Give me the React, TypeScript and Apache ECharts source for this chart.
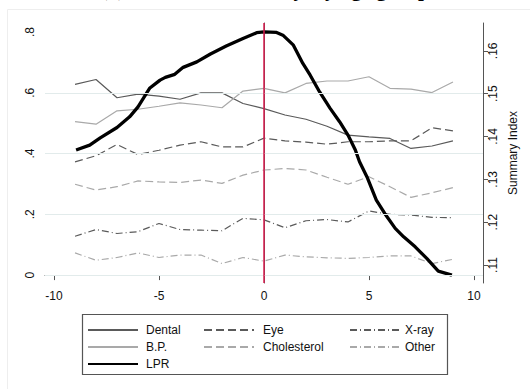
import React, { useEffect, useRef } from "react";
import * as echarts from "echarts";

const titleText = "(a) Test Rates Monthly, by age group";
const xValues = [-9, -8, -7, -6, -5, -4, -3, -2, -1, 0, 1, 2, 3, 4, 5, 6, 7, 8, 9];
const dental = [0.628, 0.644, 0.584, 0.596, 0.589, 0.579, 0.6, 0.6, 0.565, 0.548, 0.527, 0.513, 0.49, 0.461, 0.455, 0.45, 0.417, 0.425, 0.442];
const bp = [0.505, 0.497, 0.541, 0.546, 0.556, 0.567, 0.56, 0.551, 0.606, 0.615, 0.6, 0.631, 0.639, 0.639, 0.653, 0.615, 0.612, 0.601, 0.636];
const eye = [0.373, 0.393, 0.43, 0.397, 0.411, 0.428, 0.439, 0.422, 0.422, 0.451, 0.442, 0.438, 0.431, 0.439, 0.439, 0.442, 0.442, 0.485, 0.475];
const cholesterol = [0.299, 0.28, 0.291, 0.31, 0.307, 0.305, 0.313, 0.302, 0.329, 0.346, 0.351, 0.346, 0.322, 0.299, 0.324, 0.291, 0.256, 0.271, 0.288];
const xray = [0.128, 0.15, 0.137, 0.143, 0.17, 0.15, 0.148, 0.146, 0.187, 0.182, 0.156, 0.179, 0.183, 0.175, 0.211, 0.2, 0.198, 0.19, 0.189];
const other = [0.073, 0.049, 0.058, 0.073, 0.058, 0.066, 0.066, 0.038, 0.058, 0.046, 0.066, 0.06, 0.057, 0.055, 0.058, 0.063, 0.063, 0.038, 0.052];
const lprX = [-8.95, -8.3, -7.8, -7.0, -6.4, -6.0, -5.45, -4.95, -4.7, -4.25, -3.85, -3.2, -2.55, -1.8, -1.0, -0.35, 0, 0.6, 0.9, 1.4, 1.85, 2.2, 2.65, 3.15, 3.6, 4.0, 4.35, 4.55, 4.9, 5.35, 5.75, 6.25, 6.65, 7.2, 7.75, 8.3, 8.95];
const lprY = [0.412, 0.428, 0.452, 0.486, 0.521, 0.554, 0.615, 0.642, 0.651, 0.661, 0.684, 0.702, 0.728, 0.754, 0.779, 0.798, 0.801, 0.799, 0.79, 0.757, 0.697, 0.658, 0.603, 0.549, 0.505, 0.461, 0.412, 0.373, 0.324, 0.247, 0.203, 0.154, 0.126, 0.093, 0.055, 0.013, 0.0];
const xTicks = [-10, -5, 0, 5, 10];
const yLeftTicks = [0, 0.2, 0.4, 0.6, 0.8];
const yGridLines = [0, 0.2, 0.4, 0.6];
const yRightTicks = [0.11, 0.12, 0.13, 0.14, 0.15, 0.16];

const FONT = "'Liberation Sans', Arial, sans-serif";
const DARK = "#5a5a5a";
const LIGHT = "#a9a9a9";

const fmtDec = (v: number) => {
  if (Math.abs(v) < 1e-9) return "0";
  const s = String(Math.round(v * 1000) / 1000);
  return s.replace(/^0\./, ".").replace(/^-0\./, "-.");
};

export default function App() {
  const ref = useRef<HTMLDivElement>(null);
  useEffect(() => {
    document.body.style.margin = "0";
    if (!ref.current) return;
    const chart = echarts.init(ref.current, undefined, { renderer: "svg" });
    const pair = (ys: number[]) => xValues.map((x, i) => [x, ys[i]]);
    const mkLine = (name: string, ys: number[], color: string, type: any, width: number) => ({
      name,
      type: "line",
      data: pair(ys),
      symbol: "none",
      lineStyle: { color, type, width },
      itemStyle: { color },
      z: 3,
    });
    const legendText = (pad: number) => ({ fontFamily: FONT, fontSize: 12, color: "#111", padding: [0, 0, 0, pad] });
    const legendBase = {
      orient: "vertical",
      padding: 0,
      itemWidth: 50,
      itemHeight: 12,
      itemGap: 5,
      itemStyle: { color: "rgba(0,0,0,0)", borderWidth: 0, opacity: 0 },
      selectedMode: false,
    };
    chart.setOption({
      animation: false,
      backgroundColor: "#fff",
      graphic: [
        { type: "rect", shape: { x: 7.5, y: 9.5, width: 600, height: 600 }, style: { fill: "none", stroke: "#eeeeee", lineWidth: 1 }, z: -1 },
        { type: "text", x: 265, y: -22, style: { text: titleText, font: "bold 21px 'Liberation Serif', serif", fill: "#000", textAlign: "center" } },
        { type: "rect", shape: { x: 82.5, y: 314.5, width: 365, height: 60 }, style: { fill: "none", stroke: "#555", lineWidth: 1.2 }, z: 10 },
      ],
      legend: [
        { ...legendBase, left: 87, top: 324, data: ["Dental", "B.P.", "LPR"], textStyle: legendText(3) },
        { ...legendBase, left: 203, top: 324, data: ["Eye", "Cholesterol"], textStyle: legendText(4) },
        { ...legendBase, left: 349, top: 324, data: ["X-ray", "Other"], textStyle: legendText(0) },
      ],
      grid: { left: 45, right: 47, top: 23, bottom: 106, containLabel: false },
      xAxis: {
        type: "value",
        min: -10.43,
        max: 10.43,
        axisLine: { show: true, lineStyle: { color: "#555", width: 1 } },
        axisTick: { show: true, length: 5, customValues: xTicks, lineStyle: { color: "#555" } },
        axisLabel: { customValues: xTicks, fontFamily: FONT, fontSize: 12, color: "#111", margin: 7, formatter: (v: number) => String(v) },
        splitLine: { show: false },
      },
      yAxis: [
        {
          type: "value",
          position: "left",
          min: -0.026,
          max: 0.83,
          axisLine: { show: true, lineStyle: { color: "#555", width: 1 } },
          axisTick: { show: true, length: 5, customValues: yLeftTicks, lineStyle: { color: "#555" } },
          axisLabel: { customValues: yLeftTicks, rotate: 90, fontFamily: FONT, fontSize: 12, color: "#111", margin: 9, formatter: fmtDec },
          splitLine: { show: false },
        },
        {
          type: "value",
          position: "right",
          min: 0.1058,
          max: 0.1665,
          name: "Summary Index",
          nameLocation: "middle",
          nameRotate: 90,
          nameGap: 16,
          nameTextStyle: { fontFamily: FONT, fontSize: 12, color: "#111" },
          axisLine: { show: true, lineStyle: { color: "#555", width: 1 } },
          axisTick: { show: true, length: 5, customValues: yRightTicks, lineStyle: { color: "#555" } },
          axisLabel: { customValues: yRightTicks, rotate: 90, fontFamily: FONT, fontSize: 12, color: "#111", margin: 4, formatter: fmtDec },
          splitLine: { show: false },
        },
      ],
      series: [
        {
          name: "gridlines",
          type: "line",
          data: [],
          symbol: "none",
          z: 1,
          silent: true,
          markLine: {
            silent: true,
            symbol: "none",
            label: { show: false },
            lineStyle: { color: "#e2ebeb", type: "solid", width: 1 },
            data: yGridLines.map((v) => ({ yAxis: v })),
          },
        },
        mkLine("Dental", dental, DARK, "solid", 1.2),
        mkLine("B.P.", bp, LIGHT, "solid", 1.2),
        mkLine("Eye", eye, DARK, [8, 4], 1.2),
        mkLine("Cholesterol", cholesterol, LIGHT, [8, 4], 1.2),
        mkLine("X-ray", xray, DARK, [7, 3, 1, 3], 1.2),
        mkLine("Other", other, LIGHT, [7, 3, 1, 3], 1.2),
        {
          name: "LPR",
          type: "line",
          data: lprX.map((x, i) => [x, lprY[i]]),
          symbol: "none",
          lineStyle: { color: "#000", width: 3.3 },
          itemStyle: { color: "#000" },
          z: 4,
          markLine: {
            silent: true,
            symbol: "none",
            label: { show: false },
            lineStyle: { color: "#d81b4e", type: "solid", width: 1.5 },
            data: [{ xAxis: 0 }],
          },
        },
      ],
    });
    return () => chart.dispose();
  }, []);
  return <div ref={ref} style={{ width: 530, height: 389 }} />;
}
